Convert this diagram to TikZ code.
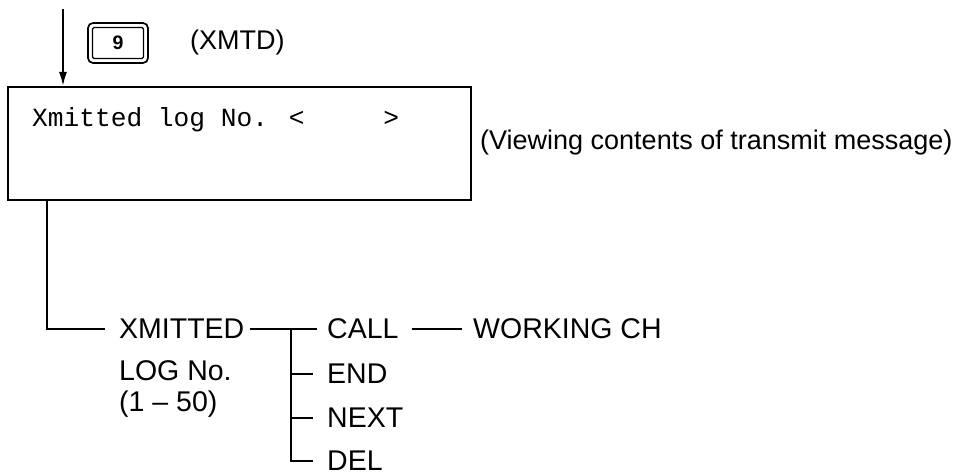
\documentclass[tikz,border=0pt]{standalone}
\usepackage{fontspec}
\setmainfont{Liberation Sans}
\newfontfamily\monof{Liberation Mono}
\usetikzlibrary{arrows.meta}
\begin{document}
\begin{tikzpicture}[x=1pt,y=-1pt,
  ln/.style={line width=1.9pt},
  lbl/.style={inner sep=0pt, anchor=west, font=\fontsize{28.5}{34}\selectfont},
  note/.style={inner sep=0pt, anchor=west, font=\fontsize{27}{32}\selectfont},
  dispbox/.style={draw, line width=2pt, minimum width=463pt, minimum height=113pt, inner sep=0pt},
  keyouter/.style={draw, line width=1.7pt, rounded corners=5pt, minimum width=60pt, minimum height=40pt, inner sep=0pt},
  keyinner/.style={draw, line width=1.1pt, rounded corners=1.5pt, minimum width=51pt, minimum height=31pt, inner sep=0pt, font=\fontsize{19.5}{22}\selectfont\bfseries}
]
\useasboundingbox (0,0) rectangle (954,476);

% key and label
\node[keyouter] (key) at (118,43) {};
\node[keyinner] (keyin) at (key.center) {9};
\node[note] (xmtd) at (190,43) {(XMTD)};

% display box
\node[dispbox] (box) at (239.5,143.5) {};
\node[inner sep=0pt, anchor=base west, font=\monof\fontsize{26.2}{30}\selectfont] (boxtext) at (32,127) {Xmitted log No. <\phantom{xxxxx}>};
\node[note] (view) at (480,143) {(Viewing contents of transmit message)};

% entry arrow
\coordinate (arrowtop) at (63,9);
\draw[ln, -{Latex[length=14pt,width=8pt]}] (arrowtop) -- (arrowtop |- box.north);

% tree
\node[lbl] (xmit) at (119,329) {XMITTED};
\node[lbl] (logno) at (119,371) {LOG No.};
\node[lbl, anchor=base west] (range) at (119,411) {(1 -- 50)};
\node[lbl] (call) at (327,329) {CALL};
\node[lbl] (endn) at (327,374) {END};
\node[lbl] (nextn) at (327,418) {NEXT};
\node[lbl] (del) at (327,461) {DEL};
\node[lbl] (working) at (473,329) {WORKING CH};

\coordinate (stemtop) at (47,200);
\draw[ln] (stemtop) |- ([xshift=-14pt]xmit.west);
\draw[ln, shorten <=6pt, shorten >=10pt] (xmit.east) -- (call.west);
\coordinate (jn) at (291,329);
\draw[ln] (jn) |- ([xshift=-14pt]del.west);
\draw[ln] (jn |- endn.west) -- ([xshift=-14pt]endn.west);
\draw[ln] (jn |- nextn.west) -- ([xshift=-14pt]nextn.west);
\draw[ln, shorten <=13pt, shorten >=11pt] (call.east) -- (working.west);
\end{tikzpicture}
\end{document}
